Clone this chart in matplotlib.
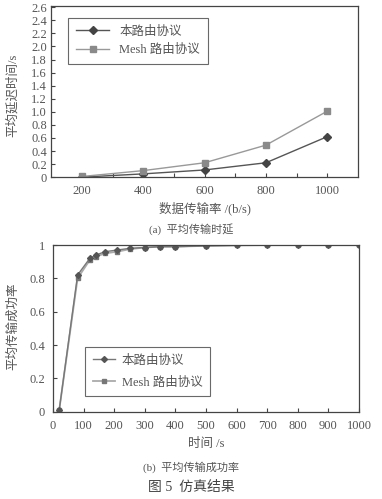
import matplotlib
matplotlib.use("Agg")
import matplotlib.pyplot as plt
from matplotlib.ticker import MultipleLocator, FixedLocator

plt.rcParams['font.family'] = ['Liberation Serif', 'Noto Sans CJK SC', 'DejaVu Sans']

# (a) data
rate = [200, 400, 600, 800, 1000]
delay_ours = [0.0, 0.05, 0.11, 0.22, 0.62]
delay_mesh = [0.01, 0.10, 0.22, 0.49, 1.01]

# (b) data
t = [20, 80, 120, 140, 170, 210, 250, 300, 350, 400, 500, 600, 700, 800, 900, 1000]
succ_ours = [0.01, 0.82, 0.92, 0.94, 0.96, 0.97, 0.98, 0.985, 0.99, 0.99, 0.995, 0.998, 1.0, 1.0, 1.0, 1.0]
succ_mesh = [0.01, 0.80, 0.91, 0.93, 0.95, 0.96, 0.975, 0.985, 0.99, 0.99, 0.995, 0.998, 1.0, 1.0, 1.0, 1.0]

yt_top = [0.2 * i for i in range(14)]
yt_top_labels = ['0'] + ['%.1f' % (0.2 * i) for i in range(1, 14)]
yt_bot = [0, 0.2, 0.4, 0.6, 0.8, 1.0]
yt_bot_labels = ['0', '0.2', '0.4', '0.6', '0.8', '1']

lab_ours = '本路由协议'
lab_mesh = 'Mesh 路由协议'

TXT = '#555555'
SP = '#444444'
fs = 9

fig = plt.figure(figsize=(3.82, 4.99), dpi=100)
fig.patch.set_facecolor('white')

def style(ax):
    for s in ax.spines.values():
        s.set_color(SP)
        s.set_linewidth(0.9)
    ax.tick_params(direction='in', colors=SP, labelcolor=TXT, labelsize=fs, length=3, width=0.8)
    ax.tick_params(which='minor', direction='in', colors=SP, length=3, width=0.8)

# top axes
ax1 = fig.add_axes([0.134, 0.645, 0.803, 0.343])
ax1.plot(rate, delay_ours, color='#555555', lw=1.0, marker='D', ms=4.5, mfc='#444444', mec='#444444', label=lab_ours)
ax1.plot(rate, delay_mesh, color='#999999', lw=1.0, marker='s', ms=5, mfc='#8a8a8a', mec='#8a8a8a', label=lab_mesh)
ax1.set_xlim(100, 1100)
ax1.set_ylim(0, 2.62)
ax1.xaxis.set_major_locator(FixedLocator(rate))
ax1.xaxis.set_minor_locator(FixedLocator([300, 500, 700, 900]))
ax1.set_yticks(yt_top)
ax1.set_yticklabels(yt_top_labels)
style(ax1)
ax1.tick_params(axis='x', pad=6)
ax1.tick_params(axis='y', pad=3)
ax1.set_xlabel('数据传输率 /(b/s)', fontsize=fs, color=TXT, labelpad=3)
ax1.set_ylabel('平均延迟时间/s', fontsize=fs, color=TXT)
ax1.yaxis.set_label_coords(-0.104, 0.48)
leg1 = ax1.legend(loc='upper left', bbox_to_anchor=(0.035, 0.965), fontsize=fs, frameon=True,
                  fancybox=False, edgecolor=SP, handlelength=2.7, borderpad=0.6, labelspacing=0.5,
                  handletextpad=0.8)
leg1.get_frame().set_linewidth(0.8)
for tx in leg1.get_texts():
    tx.set_color(TXT)

# bottom axes
ax2 = fig.add_axes([0.139, 0.175, 0.801, 0.334])
ax2.plot(t, succ_mesh, color='#aaaaaa', lw=1.3, marker='s', ms=3.5, mfc='#777777', mec='#777777')
ax2.plot(t, succ_ours, color='#777777', lw=1.0, marker='D', ms=3, mfc='#555555', mec='#555555')
h1, = ax2.plot([], [], color='#777777', lw=1.0, marker='D', ms=3, mfc='#555555', mec='#555555', label=lab_ours)
h2, = ax2.plot([], [], color='#aaaaaa', lw=1.3, marker='s', ms=3.5, mfc='#777777', mec='#777777', label=lab_mesh)
ax2.set_xlim(0, 1000)
ax2.set_ylim(0, 1)
ax2.xaxis.set_major_locator(MultipleLocator(100))
ax2.set_yticks(yt_bot)
ax2.set_yticklabels(yt_bot_labels)
style(ax2)
ax2.tick_params(axis='x', pad=6)
ax2.tick_params(axis='y', pad=6)
ax2.set_xlabel('时间 /s', fontsize=fs, color=TXT, labelpad=4)
ax2.set_ylabel('平均传输成功率', fontsize=fs, color=TXT)
ax2.yaxis.set_label_coords(-0.111, 0.51)
leg2 = ax2.legend(handles=[h1, h2], loc='lower left', bbox_to_anchor=(0.085, 0.055), fontsize=fs, frameon=True,
                  fancybox=False, edgecolor=SP, handlelength=1.8, borderpad=0.6, labelspacing=0.8,
                  handletextpad=0.5)
leg2.get_frame().set_linewidth(0.8)
for tx in leg2.get_texts():
    tx.set_color(TXT)

# captions
fig.text(0.5, 1 - 229 / 499, '(a)  平均传输时延', ha='center', va='center', fontsize=8, color=TXT)
fig.text(0.5, 1 - 467 / 499, '(b)  平均传输成功率', ha='center', va='center', fontsize=8, color=TXT)
fig.text(0.5, 1 - 487 / 499, '图 5  仿真结果', ha='center', va='center', fontsize=10, color='#444444')

fig.savefig('out.png', dpi=100)
